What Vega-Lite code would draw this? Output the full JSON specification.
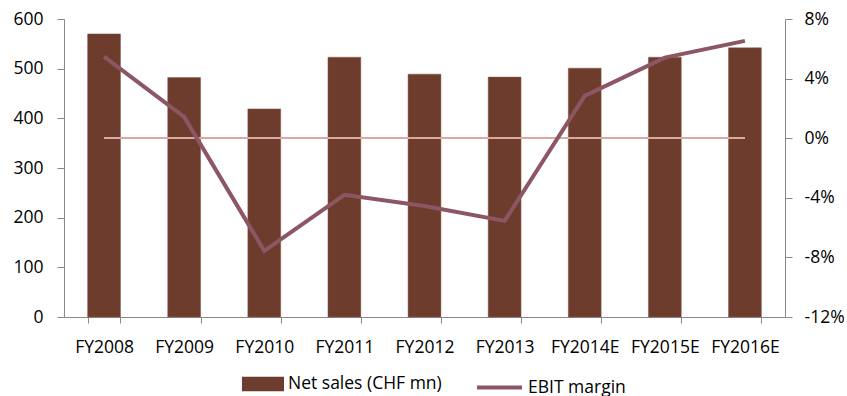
{
  "$schema": "https://vega.github.io/schema/vega-lite/v6.json",
  "width": 721,
  "height": 298,
  "autosize": "none",
  "padding": {"left": 64, "top": 19, "right": 62, "bottom": 79},
  "background": "white",
  "config": {
    "view": {"stroke": null},
    "font": "Open Sans",
    "axis": {"labelFont": "Open Sans", "labelFontSize": 17.5, "labelColor": "#000000", "domainColor": "#888888", "tickColor": "#888888", "grid": false, "title": null, "tickSize": 7},
    "legend": {"labelFont": "Open Sans", "labelFontSize": 17.5, "labelColor": "#000000"}
  },
  "data": {
    "values": [
      {"year": "FY2008", "sales": 570, "margin": 0.0548},
      {"year": "FY2009", "sales": 482, "margin": 0.0143},
      {"year": "FY2010", "sales": 419, "margin": -0.0756},
      {"year": "FY2011", "sales": 523, "margin": -0.038},
      {"year": "FY2012", "sales": 489, "margin": -0.0455},
      {"year": "FY2013", "sales": 483, "margin": -0.0555},
      {"year": "FY2014E", "sales": 501, "margin": 0.0284},
      {"year": "FY2015E", "sales": 523, "margin": 0.0541},
      {"year": "FY2016E", "sales": 542, "margin": 0.0653}
    ]
  },
  "encoding": {
    "x": {
      "field": "year", "type": "nominal", "sort": null,
      "scale": {"paddingInner": 0.59, "paddingOuter": 0.295},
      "axis": {"labelAngle": 0, "tickBand": "extent", "tickSize": 6, "labelPadding": 15}
    }
  },
  "layer": [
    {
      "mark": {"type": "bar", "stroke": "#8a5a4a", "strokeWidth": 0.5},
      "encoding": {
        "y": {"field": "sales", "type": "quantitative", "scale": {"domain": [0, 600]}, "axis": {"values": [0, 100, 200, 300, 400, 500, 600], "labelPadding": 14}},
        "fill": {"datum": "Net sales (CHF mn)", "type": "nominal", "scale": {"range": ["#6E3C2D"]},
          "legend": {"orient": "none", "legendX": 178, "legendY": 344, "title": null, "symbolType": "M-1,-0.35H1V0.35H-1Z", "symbolSize": 1764, "symbolStrokeWidth": 0, "labelOffset": 4}}
      }
    },
    {
      "layer": [
        {
          "mark": {"type": "rule", "color": "#D9A9A2", "strokeWidth": 1.5},
          "encoding": {
            "x": {"datum": "FY2008"},
            "x2": {"datum": "FY2016E"},
            "y": {"datum": 0}
          }
        },
        {
          "mark": {"type": "line", "strokeWidth": 4, "strokeJoin": "miter"},
          "encoding": {
            "y": {"field": "margin", "type": "quantitative", "scale": {"domain": [-0.12, 0.08]}, "axis": {"orient": "right", "values": [-0.12, -0.08, -0.04, 0, 0.04, 0.08], "labelExpr": "replace(format(datum.value, '.0%'), '\u2212', '-')", "labelPadding": 12}},
            "stroke": {"datum": "EBIT margin", "type": "nominal", "scale": {"range": ["#8C5664"]},
              "legend": {"orient": "none", "legendX": 411, "legendY": 344, "title": null, "symbolType": "stroke", "symbolSize": 2025, "symbolStrokeWidth": 4, "symbolStrokeColor": "#8C5664", "labelOffset": 4}}
          }
        }
      ]
    }
  ],
  "resolve": {"scale": {"y": "independent", "fill": "independent", "stroke": "independent"}}
}
